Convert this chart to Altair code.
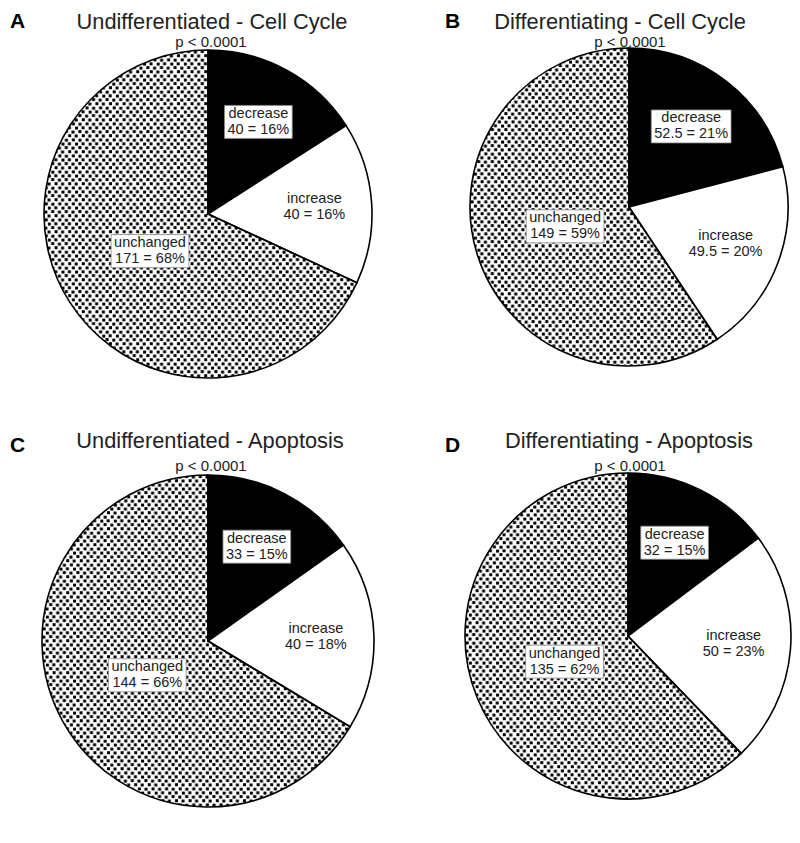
import base64
import math
import altair as alt
import pandas as pd

# ---------------- data ----------------
panels = ["A", "B", "C", "D"]
titles = ["Undifferentiated - Cell Cycle", "Differentiating - Cell Cycle",
          "Undifferentiated - Apoptosis", "Differentiating - Apoptosis"]
pvalues = ["p < 0.0001", "p < 0.0001", "p < 0.0001", "p < 0.0001"]
categories = ["decrease", "increase", "unchanged"]
decrease = [40, 52.5, 33, 32]
increase = [40, 49.5, 40, 50]
unchanged = [171, 149, 144, 135]

# ---------------- styles / layout ----------------
FONT = "Liberation Sans"
LABEL_FS = 14.5
LINE_H = 16
fills = {"decrease": "black", "increase": "white", "unchanged": "transparent"}
label_rf = {"decrease": 0.64, "increase": 0.65, "unchanged": 0.42}
geom = {
    "A": dict(cx=200, cy=206, R=164, tx=204, ty=21, px=203, py=39, lx=2, ly=20),
    "B": dict(cx=621, cy=199, R=159, tx=612, ty=21, px=622, py=39, lx=437, ly=20),
    "C": dict(cx=200, cy=633, R=166, tx=202, ty=440, px=203, py=463, lx=2, ly=444),
    "D": dict(cx=620, cy=628, R=163, tx=621, ty=440, px=622, py=463, lx=437, ly=444),
}
W, H = 784, 827

cw = {'0': .556, '1': .556, '2': .556, '3': .556, '4': .556, '5': .556, '6': .556,
      '7': .556, '8': .556, '9': .556, '.': .278, ' ': .278, '=': .584, '%': .889,
      'a': .556, 'c': .5, 'd': .556, 'e': .556, 'g': .556, 'h': .556, 'i': .222,
      'n': .556, 'r': .333, 's': .5, 'u': .556}


def text_w(s):
    return sum(cw.get(ch, .556) for ch in s) * LABEL_FS


# stipple texture tile (staggered dots with a little jitter)
DOTS = [(0.0, 0.2), (6.9, -0.3), (3.2, 4.1), (10.3, 3.8),
        (0.4, 8.0), (7.0, 8.3), (3.6, 12.2), (10.0, 11.9)]


def stipple_uri(R):
    d = 2 * R
    rects = "".join(
        f'<rect x="{(x + 0.3) % 13.6:.2f}" y="{(y + 0.4) % 16:.2f}" width="3" height="3" fill="black"/>'
        for x, y in DOTS)
    svg = (f'<svg xmlns="http://www.w3.org/2000/svg" width="{d}" height="{d}" '
           f'viewBox="0 0 {d} {d}"><defs><pattern id="p" width="13.6" height="16" '
           f'patternUnits="userSpaceOnUse"><rect width="13.6" height="16" fill="white"/>'
           f'{rects}</pattern></defs>'
           f'<circle cx="{R}" cy="{R}" r="{R}" fill="url(#p)"/></svg>')
    return "data:image/svg+xml;base64," + base64.b64encode(svg.encode()).decode()


layers = []
for i, p in enumerate(panels):
    g = geom[p]
    vals = [decrease[i], increase[i], unchanged[i]]
    total = sum(vals)
    rows = []
    cum = 0.0
    for cat, v in zip(categories, vals):
        a0 = cum / total * 2 * math.pi
        cum += v
        a1 = cum / total * 2 * math.pi
        mid = (a0 + a1) / 2
        r = label_rf[cat] * g["R"]
        lx = g["cx"] + r * math.sin(mid)
        ly = g["cy"] - r * math.cos(mid)
        line2 = f"{v:g} = {round(v / total * 100)}%"
        bw = max(text_w(cat), text_w(line2)) + 6
        bh = 2 * LINE_H + 1
        rows.append(dict(cat=cat, value=v, t0=a0, t1=a1, fill=fills[cat],
                         cx=g["cx"], cy=g["cy"], R=g["R"],
                         lx=lx, ly=ly - LINE_H / 2, label=f"{cat}\n{line2}",
                         bx=lx - bw / 2, bx2=lx + bw / 2, by=ly - bh / 2, by2=ly + bh / 2))
    df = pd.DataFrame(rows)

    img = alt.Chart(pd.DataFrame({"url": [stipple_uri(g["R"])]})).mark_image(
        width=2 * g["R"], height=2 * g["R"], aspect=False, align="center", baseline="middle"
    ).encode(x=alt.value(g["cx"]), y=alt.value(g["cy"]), url="url:N")

    arcs = alt.Chart(df).mark_arc(stroke="black", strokeWidth=1.6).encode(
        x=alt.X("cx:Q", scale=None), y=alt.Y("cy:Q", scale=None),
        theta=alt.Theta("t0:Q", scale=None), theta2="t1:Q",
        radius=alt.Radius("R:Q", scale=None),
        fill=alt.Fill("fill:N", scale=None),
    )

    boxes = alt.Chart(df).transform_filter("datum.cat != 'increase'").mark_rect(
        fill="white", stroke="#8a8a8a", strokeWidth=0.8
    ).encode(
        x=alt.X("bx:Q", scale=None), x2="bx2:Q",
        y=alt.Y("by:Q", scale=None), y2="by2:Q",
    )

    labels = alt.Chart(df).mark_text(
        font=FONT, fontSize=LABEL_FS, lineBreak="\n", lineHeight=LINE_H,
        align="center", baseline="middle", color="#222"
    ).encode(x=alt.X("lx:Q", scale=None), y=alt.Y("ly:Q", scale=None), text="label:N")

    title = alt.Chart(pd.DataFrame({"t": [titles[i]]})).mark_text(
        font=FONT, fontSize=21.8, align="center", baseline="alphabetic", color="#222"
    ).encode(x=alt.value(g["tx"]), y=alt.value(g["ty"]), text="t:N")

    sub = alt.Chart(pd.DataFrame({"t": [pvalues[i]]})).mark_text(
        font=FONT, fontSize=15, align="center", baseline="alphabetic", color="#222"
    ).encode(x=alt.value(g["px"]), y=alt.value(g["py"]), text="t:N")

    letter = alt.Chart(pd.DataFrame({"t": [p]})).mark_text(
        font=FONT, fontSize=21, fontWeight="bold", align="left", baseline="alphabetic",
        color="black"
    ).encode(x=alt.value(g["lx"]), y=alt.value(g["ly"]), text="t:N")

    layers += [img, arcs, boxes, labels, title, sub, letter]

chart = alt.layer(*layers).properties(
    width=W, height=H, padding=0,
    autosize=alt.AutoSizeParams(type="none"),
).configure_view(stroke=None)

chart.save("out.html", embed_options={"renderer": "svg", "actions": False})
